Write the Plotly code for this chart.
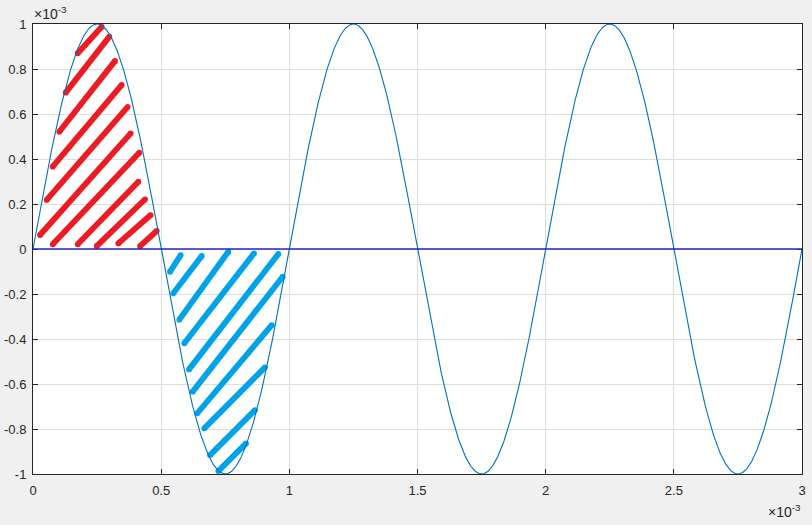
import numpy as np
import plotly.graph_objects as go

# ---- data (values in units of 1e-3) ----
amplitude = 1.0          # peak of the sine (x1e-3)
frequency = 1.0          # cycles per 1e-3 s
t_end = 3.0              # x range end (x1e-3)

x_ticks = [0, 0.5, 1, 1.5, 2, 2.5, 3]
x_tick_labels = ["0", "0.5", "1", "1.5", "2", "2.5", "3"]
y_ticks = [-1, -0.8, -0.6, -0.4, -0.2, 0, 0.2, 0.4, 0.6, 0.8, 1]
y_tick_labels = ["-1", "-0.8", "-0.6", "-0.4", "-0.2", "0", "0.2", "0.4", "0.6", "0.8", "1"]

# hatch strokes (start / end points, x1e-3)
red_x0 = [0.1744, 0.1276, 0.1026, 0.0769, 0.0535, 0.0273, 0.0769, 0.1744, 0.2485, 0.3328, 0.4174]
red_y0 = [0.870, 0.695, 0.521, 0.366, 0.218, 0.062, 0.021, 0.021, 0.013, 0.025, 0.013]
red_x1 = [0.268, 0.2977, 0.320, 0.346, 0.3694, 0.381, 0.4147, 0.411, 0.437, 0.459, 0.4826]
red_y1 = [0.988, 0.944, 0.836, 0.729, 0.632, 0.514, 0.428, 0.299, 0.221, 0.151, 0.080]

blue_x0 = [0.5345, 0.5473, 0.5708, 0.5903, 0.6086, 0.6230, 0.6410, 0.6683, 0.6905, 0.7229]
blue_y0 = [-0.101, -0.197, -0.314, -0.419, -0.535, -0.634, -0.730, -0.797, -0.916, -0.987]
blue_x1 = [0.5762, 0.6581, 0.7619, 0.8622, 0.9570, 0.9741, 0.9312, 0.9050, 0.8660, 0.8310]
blue_y1 = [-0.027, -0.031, -0.012, -0.019, -0.022, -0.123, -0.338, -0.526, -0.716, -0.864]

SCALE = 1e-3
FONT = "Liberation Sans, Arial, sans-serif"

def segs(x0, y0, x1, y1):
    xs, ys = [], []
    for a, b, c, d in zip(x0, y0, x1, y1):
        xs += [a * SCALE, c * SCALE, None]
        ys += [b * SCALE, d * SCALE, None]
    return xs, ys

t = np.linspace(0, t_end, 1501)
y = amplitude * np.sin(2 * np.pi * frequency * t)

fig = go.Figure()

rx, ry = segs(red_x0, red_y0, red_x1, red_y1)
bx, by = segs(blue_x0, blue_y0, blue_x1, blue_y1)
fig.add_trace(go.Scatter(x=rx, y=ry, mode="lines+markers",
                         line=dict(color="#ed1c24", width=5.8),
                         marker=dict(color="#ed1c24", size=5.8, line=dict(width=0)),
                         hoverinfo="skip"))
fig.add_trace(go.Scatter(x=bx, y=by, mode="lines+markers",
                         line=dict(color="#00a2e8", width=5.8),
                         marker=dict(color="#00a2e8", size=5.8, line=dict(width=0)),
                         hoverinfo="skip"))
fig.add_trace(go.Scatter(x=t * SCALE, y=y * SCALE, mode="lines",
                         line=dict(color="#0072bd", width=1.1), hoverinfo="skip"))

fig.add_shape(type="line", x0=0, x1=t_end * SCALE, y0=0, y1=0, xref="x", yref="y",
              line=dict(color="#2424c8", width=1.3))

axis_common = dict(
    showline=True, linecolor="#262626", linewidth=1, mirror="ticks",
    ticks="inside", ticklen=5, tickcolor="#262626", tickwidth=1,
    showgrid=True, gridcolor="#dedede", gridwidth=1, zeroline=False,
    automargin=False,
    tickfont=dict(family=FONT, size=13, color="#262626"),
)

fig.update_layout(
    width=812, height=525,
    margin=dict(l=33, r=10, t=24, b=51),
    paper_bgcolor="#f0f0f0", plot_bgcolor="#ffffff",
    showlegend=False,
    xaxis=dict(range=[0, t_end * SCALE],
               tickvals=[v * SCALE for v in x_ticks], ticktext=x_tick_labels,
               ticklabelstandoff=4,
               **axis_common),
    yaxis=dict(range=[-amplitude * SCALE, amplitude * SCALE],
               tickvals=[v * SCALE for v in y_ticks], ticktext=y_tick_labels,
               ticklabelstandoff=3,
               **axis_common),
    annotations=[
        dict(text="×10<sup>-3</sup>", xref="paper", yref="paper", x=0, y=1,
             xanchor="left", yanchor="bottom", showarrow=False, yshift=0, xshift=-1,
             font=dict(family=FONT, size=14, color="#262626")),
        dict(text="×10<sup>-3</sup>", xref="paper", yref="paper", x=1, y=0,
             xanchor="right", yanchor="top", showarrow=False, yshift=-26, xshift=1,
             font=dict(family=FONT, size=14, color="#262626")),
    ],
)

fig.write_html(
    "out.html",
    config={"displayModeBar": False},
    post_script="document.body.style.margin='0';document.body.style.background='#f0f0f0';",
)
